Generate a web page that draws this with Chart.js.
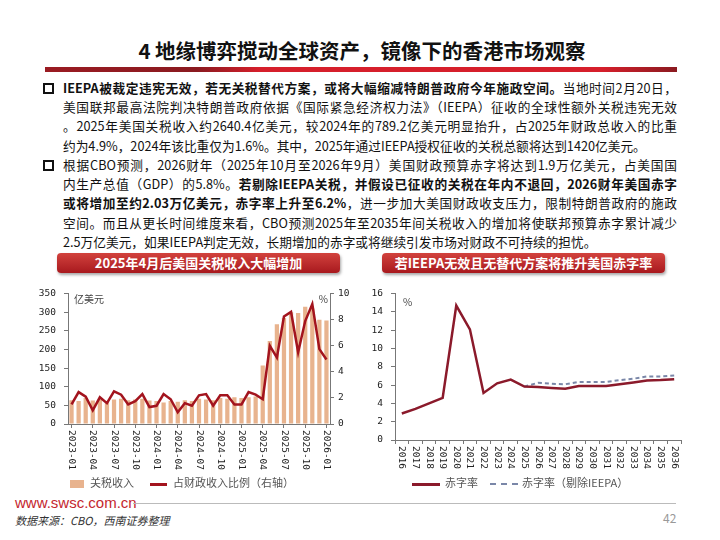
<!DOCTYPE html>
<html>
<head>
    <meta charset="utf-8">
    <title>4 地缘博弈搅动全球资产</title>
    <script src="https://cdn.jsdelivr.net/npm/chart.js"></script>
    <style>
        body { margin: 0; width: 720px; height: 540px; background: #fff; position: relative; overflow: hidden;
               font-family: "Noto Sans CJK SC", "Noto Sans", sans-serif; color: #111; }
        .abs { position: absolute; }
        #title { left: 0; width: 724px; top: 36px; text-align: center; font-size: 20.5px; font-weight: bold; line-height: 28px; }
        #redbar { left: 45px; top: 67px; width: 632px; height: 5px;
                  background: linear-gradient(to right, #9a1b22, #8a1a20 24%, #d61f2b 34%, #d61f2b 88%, #8a1a20); }
        .para { left: 63px; width: 614px; font-size: 12.7px; line-height: 19.2px; }
        .para div { text-align: justify; text-align-last: justify; }
        .para div.last { text-align-last: left; }
        .box { width: 7px; height: 7px; border: 2px solid #111; }
        .banner { top: 253px; height: 20px; width: 283px; border-radius: 4px; color: #fff; font-weight: bold;
                  font-size: 13px; line-height: 20px; text-align: center;
                  background: linear-gradient(to bottom, #d2423d, #a8191e); box-shadow: 1px 2px 3px rgba(0,0,0,0.35); }
        .leg { top: 474px; font-size: 11px; color: #555; line-height: 16px; white-space: nowrap; }
        canvas { position: absolute; }
    </style>
</head>
<body>
    <div id="title" class="abs">4 地缘博弈搅动全球资产，镜像下的香港市场观察</div>
    <div id="redbar" class="abs"></div>

    <div class="abs box" style="left:43px; top:83px;"></div>
    <div class="abs para" style="top:78px;">
        <div><b>IEEPA被裁定违宪无效，若无关税替代方案，或将大幅缩减特朗普政府今年施政空间。</b>当地时间2月20日，</div>
        <div>美国联邦最高法院判决特朗普政府依据《国际紧急经济权力法》（IEEPA）征收的全球性额外关税违宪无效</div>
        <div>。2025年美国关税收入约2640.4亿美元，较2024年的789.2亿美元明显抬升，占2025年财政总收入的比重</div>
        <div class="last">约为4.9%，2024年该比重仅为1.6%。其中，2025年通过IEEPA授权征收的关税总额将达到1420亿美元。</div>
    </div>
    <div class="abs box" style="left:43px; top:160px;"></div>
    <div class="abs para" style="top:155px;">
        <div>根据CBO预测，2026财年（2025年10月至2026年9月）美国财政预算赤字将达到1.9万亿美元，占美国国</div>
        <div>内生产总值（GDP）的5.8%。<b>若剔除IEEPA关税，并假设已征收的关税在年内不退回，2026财年美国赤字</b></div>
        <div><b>或将增加至约2.03万亿美元，赤字率上升至6.2%</b>，进一步加大美国财政收支压力，限制特朗普政府的施政</div>
        <div>空间。而且从更长时间维度来看，CBO预测2025年至2035年间关税收入的增加将使联邦预算赤字累计减少</div>
        <div class="last">2.5万亿美元，如果IEEPA判定无效，长期增加的赤字或将继续引发市场对财政不可持续的担忧。</div>
    </div>

    <div class="abs banner" style="left:57px;">2025年4月后美国关税收入大幅增加</div>
    <div class="abs banner" style="left:382px;">若IEEPA无效且无替代方案将推升美国赤字率</div>

    <canvas id="tariffChart" style="left:30px; top:280px;" width="330" height="195"></canvas>
    <canvas id="deficitChart" style="left:360px; top:280px;" width="340" height="195"></canvas>

    <div class="abs leg" style="left:70px;"><span style="display:inline-block;width:14px;height:8px;background:#e8b38e;vertical-align:middle;margin-right:6px;"></span>关税收入</div>
    <div class="abs leg" style="left:150px;"><span style="display:inline-block;width:17px;height:3px;background:#a3141e;vertical-align:middle;margin-right:6px;"></span>占财政收入比例（右轴）</div>
    <div class="abs leg" style="left:412px;"><span style="display:inline-block;width:28px;height:3px;background:#8b1a2b;vertical-align:middle;margin-right:5px;"></span>赤字率</div>
    <div class="abs leg" style="left:490px;"><span style="display:inline-block;width:28px;height:0;border-top:2px dashed #7a87a8;vertical-align:middle;margin-right:4px;"></span>赤字率（剔除IEEPA）</div>

    <div class="abs" style="left:15px; top:494px; font-family:'Liberation Sans',Arial,sans-serif; font-size:15px; color:#c4262e;">www.swsc.com.cn</div>
    <div class="abs" style="left:133px; top:503px; width:543px; height:1px; background:#bbb;"></div>
    <div class="abs" style="left:15px; top:512px; font-size:11px; font-style:italic; color:#333;">数据来源：CBO，西南证券整理</div>
    <div class="abs" style="left:663px; top:509px; font-size:12px; color:#999;">42</div>

    <script>
        // left chart: monthly US customs receipts
        var months = ['2023-01','2023-02','2023-03','2023-04','2023-05','2023-06','2023-07','2023-08','2023-09','2023-10','2023-11','2023-12',
                      '2024-01','2024-02','2024-03','2024-04','2024-05','2024-06','2024-07','2024-08','2024-09','2024-10','2024-11','2024-12',
                      '2025-01','2025-02','2025-03','2025-04','2025-05','2025-06','2025-07','2025-08','2025-09','2025-10','2025-11','2025-12',
                      '2026-01'];
        var tariffRevenue = [64, 62, 70, 63, 66, 60, 66, 68, 64, 66, 68, 63,
                             62, 58, 62, 60, 64, 62, 68, 66, 64, 70, 68, 72,
                             70, 72, 74, 157, 223, 268, 285, 300, 298, 315, 310, 280,
                             278];
        var revenueShare = [1.5, 2.45, 2.1, 1.05, 2.05, 1.6, 2.5, 2.25, 1.5, 1.75, 2.3, 1.3,
                            1.4, 2.3, 1.9, 0.9, 1.6, 1.4, 2.2, 2.3, 1.4, 2.2, 2.2, 1.5,
                            1.5, 2.45, 2.25, 1.9, 6.0, 5.1, 8.25, 8.6, 5.5, 7.9, 9.2, 5.75,
                            4.95];

        // right chart: deficit rate
        var years = ['2016','2017','2018','2019','2020','2021','2022','2023','2024','2025','2026',
                     '2027','2028','2029','2030','2031','2032','2033','2034','2035','2036'];
        var deficitRate = [2.9, 3.4, 4.0, 4.6, 14.7, 12.1, 5.15, 6.2, 6.6, 5.85, 5.8,
                           5.7, 5.6, 5.9, 5.9, 5.9, 6.1, 6.3, 6.5, 6.55, 6.65];
        var deficitExIeepa = [null, null, null, null, null, null, null, null, null, 5.85, 6.25,
                              6.15, 6.1, 6.35, 6.35, 6.35, 6.55, 6.7, 6.95, 6.95, 7.05];

        var monoFont = { family: 'DejaVu Sans Mono', size: 9.5 };

        // x labels read top to bottom, drawn with the x scale's own tick positions
        var vLabels = {
            id: 'vLabels',
            afterDraw: function(chart, args, opts) {
                var s = chart.scales.x, ctx = chart.ctx;
                ctx.save();
                ctx.font = '9.5px "DejaVu Sans Mono"';
                ctx.fillStyle = '#222';
                ctx.textAlign = 'left';
                ctx.textBaseline = 'middle';
                s.ticks.forEach(function(t, i) {
                    if (i % opts.every !== 0) return;
                    ctx.save();
                    ctx.translate(s.getPixelForTick(i), s.top + 6);
                    ctx.rotate(Math.PI / 2);
                    ctx.fillText(chart.data.labels[i], 0, 0);
                    ctx.restore();
                });
                ctx.restore();
            }
        };

        var unitText = {
            id: 'unitText',
            afterDraw: function(chart, args, opts) {
                var a = chart.chartArea, ctx = chart.ctx;
                ctx.save();
                ctx.font = '10px "Noto Sans CJK SC"';
                ctx.fillStyle = '#444';
                ctx.textBaseline = 'top';
                (opts.items || []).forEach(function(it) {
                    ctx.textAlign = it.align;
                    ctx.fillText(it.text, it.right ? a.right - it.dx : a.left + it.dx, a.top + it.dy);
                });
                ctx.restore();
            }
        };

        function fixW(w) { return function(s) { s.width = w; }; }
        function fixH(h) { return function(s) { s.height = h; }; }

        new Chart(document.getElementById('tariffChart'), {
            type: 'bar',
            data: {
                labels: months,
                datasets: [{
                    type: 'line',
                    label: '占财政收入比例（右轴）',
                    data: revenueShare,
                    yAxisID: 'y1',
                    borderColor: '#a3141e',
                    borderWidth: 2.5,
                    pointRadius: 0,
                    tension: 0
                }, {
                    label: '关税收入',
                    data: tariffRevenue,
                    yAxisID: 'y',
                    backgroundColor: '#e8b38e',
                    barPercentage: 0.6,
                    categoryPercentage: 1
                }]
            },
            options: {
                responsive: false,
                animation: false,
                layout: { padding: { top: 9, left: 0, right: 0, bottom: 0 } },
                plugins: {
                    legend: { display: false },
                    tooltip: { enabled: false },
                    vLabels: { every: 3 },
                    unitText: { items: [{ text: '亿美元', dx: 6, dy: 1, align: 'left' },
                                        { text: '%', dx: 2, dy: 1, align: 'right', right: true }] }
                },
                scales: {
                    x: {
                        afterFit: fixH(51),
                        grid: { display: true, drawOnChartArea: false, offset: false, tickLength: 4,
                                tickColor: function(c) { return c.index % 3 === 0 ? '#777' : 'rgba(0,0,0,0)'; } },
                        border: { color: '#777' },
                        ticks: { color: 'rgba(0,0,0,0)', autoSkip: false, minRotation: 90, maxRotation: 90, font: monoFont }
                    },
                    y: {
                        position: 'left',
                        min: 0, max: 350,
                        afterFit: fixW(38),
                        grid: { display: true, drawOnChartArea: false, tickLength: 4, tickColor: '#777' },
                        border: { color: '#777' },
                        ticks: { stepSize: 50, color: '#222', font: monoFont, padding: 8 }
                    },
                    y1: {
                        position: 'right',
                        min: 0, max: 10,
                        afterFit: fixW(30),
                        grid: { display: true, drawOnChartArea: false, tickLength: 4, tickColor: '#777' },
                        border: { color: '#777' },
                        ticks: { stepSize: 2, color: '#222', font: monoFont, padding: 4 }
                    }
                }
            },
            plugins: [vLabels, unitText]
        });

        new Chart(document.getElementById('deficitChart'), {
            type: 'line',
            data: {
                labels: years,
                datasets: [{
                    label: '赤字率',
                    data: deficitRate,
                    borderColor: '#8b1a2b',
                    borderWidth: 2.5,
                    pointRadius: 0,
                    tension: 0
                }, {
                    label: '赤字率（剔除IEEPA）',
                    data: deficitExIeepa,
                    borderColor: '#7a87a8',
                    borderWidth: 2,
                    borderDash: [4, 3],
                    pointRadius: 0,
                    tension: 0
                }]
            },
            options: {
                responsive: false,
                animation: false,
                layout: { padding: { top: 9, left: 0, right: 19, bottom: 0 } },
                plugins: {
                    legend: { display: false },
                    tooltip: { enabled: false },
                    vLabels: { every: 1 },
                    unitText: { items: [{ text: '%', dx: 8, dy: 4, align: 'left' }] }
                },
                scales: {
                    x: {
                        offset: true,
                        afterFit: fixH(35),
                        grid: { display: true, drawOnChartArea: false, offset: true, tickLength: 4, tickColor: '#777' },
                        border: { color: '#777' },
                        ticks: { color: 'rgba(0,0,0,0)', autoSkip: false, minRotation: 90, maxRotation: 90, font: monoFont }
                    },
                    y: {
                        min: 0, max: 16,
                        afterFit: fixW(35),
                        grid: { display: true, drawOnChartArea: false, tickLength: 4, tickColor: '#777' },
                        border: { color: '#777' },
                        ticks: { stepSize: 2, color: '#222', font: monoFont, padding: 8 }
                    }
                }
            },
            plugins: [vLabels, unitText]
        });
    </script>
</body>
</html>
